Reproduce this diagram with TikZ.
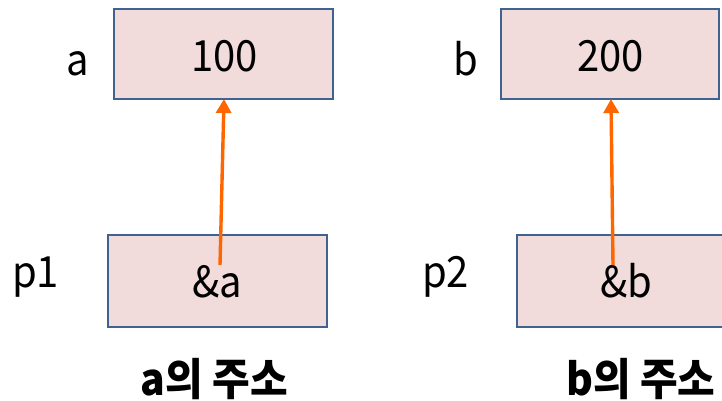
\documentclass[tikz,border=0pt]{standalone}
\usepackage{fontspec}
\setmainfont[FakeStretch=0.93]{Noto Sans CJK KR}
\usetikzlibrary{arrows.meta}
\definecolor{boxfill}{HTML}{F2DCDB}
\definecolor{boxline}{RGB}{64,98,145}
\definecolor{arrowc}{RGB}{255,102,0}
\begin{document}
\begin{tikzpicture}[x=1pt,y=-1pt,
  cell/.style={draw=boxline,fill=boxfill,line width=2.4pt,inner sep=0pt},
  val/.style={font=\fontsize{43}{50}\selectfont,anchor=base,inner sep=0pt},
  captext/.style={font=\fontsize{44}{50}\selectfont\bfseries,anchor=base,inner sep=0pt},
  ptr/.style={draw=arrowc,line width=3.4pt,-{Triangle[length=14pt,width=15pt]}}]
\useasboundingbox (0,0) rectangle (722,401);
\clip (0,0) rectangle (722,401);
% boxes
\node[cell,minimum width=219pt,minimum height=90pt] (A) at (223.5,54) {};
\node[cell,minimum width=218pt,minimum height=90pt] (B) at (610,54) {};
\node[cell,minimum width=219pt,minimum height=92pt] (P1) at (217.5,281) {};
\node[cell,minimum width=219pt,minimum height=92pt] (P2) at (626.5,281) {};
% values
\node[val] (tA) at (224.5,72) {100};
\node[val] (tB) at (610.5,72) {200};
\node[val] (tP1) at (217.5,297) {\&a};
\node[val] (tP2) at (626,297) {\&b};
% names
\node[val] (nA) at (78,76) {a};
\node[val] (nB) at (466,76) {b};
\node[val] (nP1) at (35.5,287) {p1};
\node[val] (nP2) at (445.5,287) {p2};
% captions
\node[captext] (cA) at (214.5,395) {a의 주소};
\node[captext] (cB) at (641,395) {b의 주소};
% pointers
\coordinate (s1) at (220,265);
\coordinate (e1) at (224,99);
\coordinate (s2) at (613,265);
\coordinate (e2) at (611,99);
\draw[ptr] (s1) -- (e1);
\draw[ptr] (s2) -- (e2);
\end{tikzpicture}
\end{document}
